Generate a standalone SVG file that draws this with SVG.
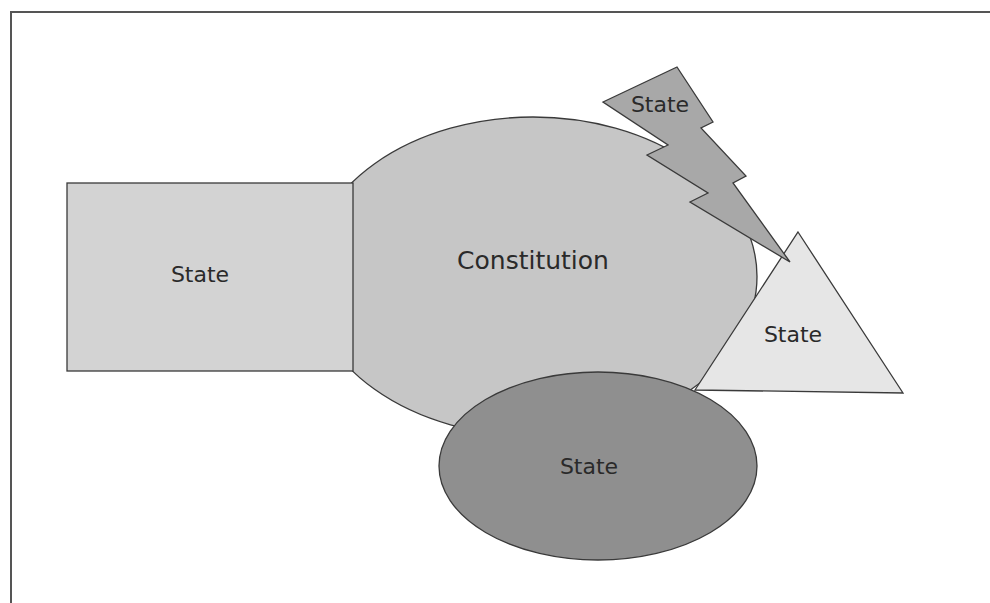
<svg xmlns="http://www.w3.org/2000/svg" width="990" height="603" viewBox="0 0 990 603">
<style>
.shape{stroke:#3a3a3a;stroke-width:1.3;stroke-linejoin:miter}
.lbl{font-family:"DejaVu Sans","Liberation Sans",sans-serif;fill:#2a2a2a;text-anchor:middle}
</style>
<rect width="990" height="603" fill="#ffffff"/>
<g id="frame">
<line x1="11" y1="12" x2="990" y2="12" stroke="#555" stroke-width="2"/>
<line x1="11" y1="11" x2="11" y2="603" stroke="#555" stroke-width="2"/>
</g>
<g id="constitution">
<ellipse class="shape" cx="533" cy="276.5" rx="224" ry="159.5" fill="#c6c6c6"/>
<text class="lbl" x="533" y="269" font-size="25">Constitution</text>
</g>
<g id="state-rect">
<rect class="shape" x="67" y="183" width="286" height="188" fill="#d3d3d3"/>
<text class="lbl" x="200" y="282" font-size="22">State</text>
</g>
<g id="state-triangle">
<polygon class="shape" points="798,232 903,393 695,390" fill="#e6e6e6"/>
<text class="lbl" x="793" y="342" font-size="22">State</text>
</g>
<g id="state-ellipse">
<ellipse class="shape" cx="598" cy="466" rx="159" ry="94" fill="#8f8f8f"/>
<text class="lbl" x="589" y="474" font-size="22">State</text>
</g>
<g id="state-bolt">
<polygon class="shape" points="677,67 713,122 701,128 746,176 733,183 790,262 690,202 708,193 647,155 668,145 603,102" fill="#a8a8a8"/>
<text class="lbl" x="660" y="112" font-size="22">State</text>
</g>
<g id="connectors"></g>
</svg>
